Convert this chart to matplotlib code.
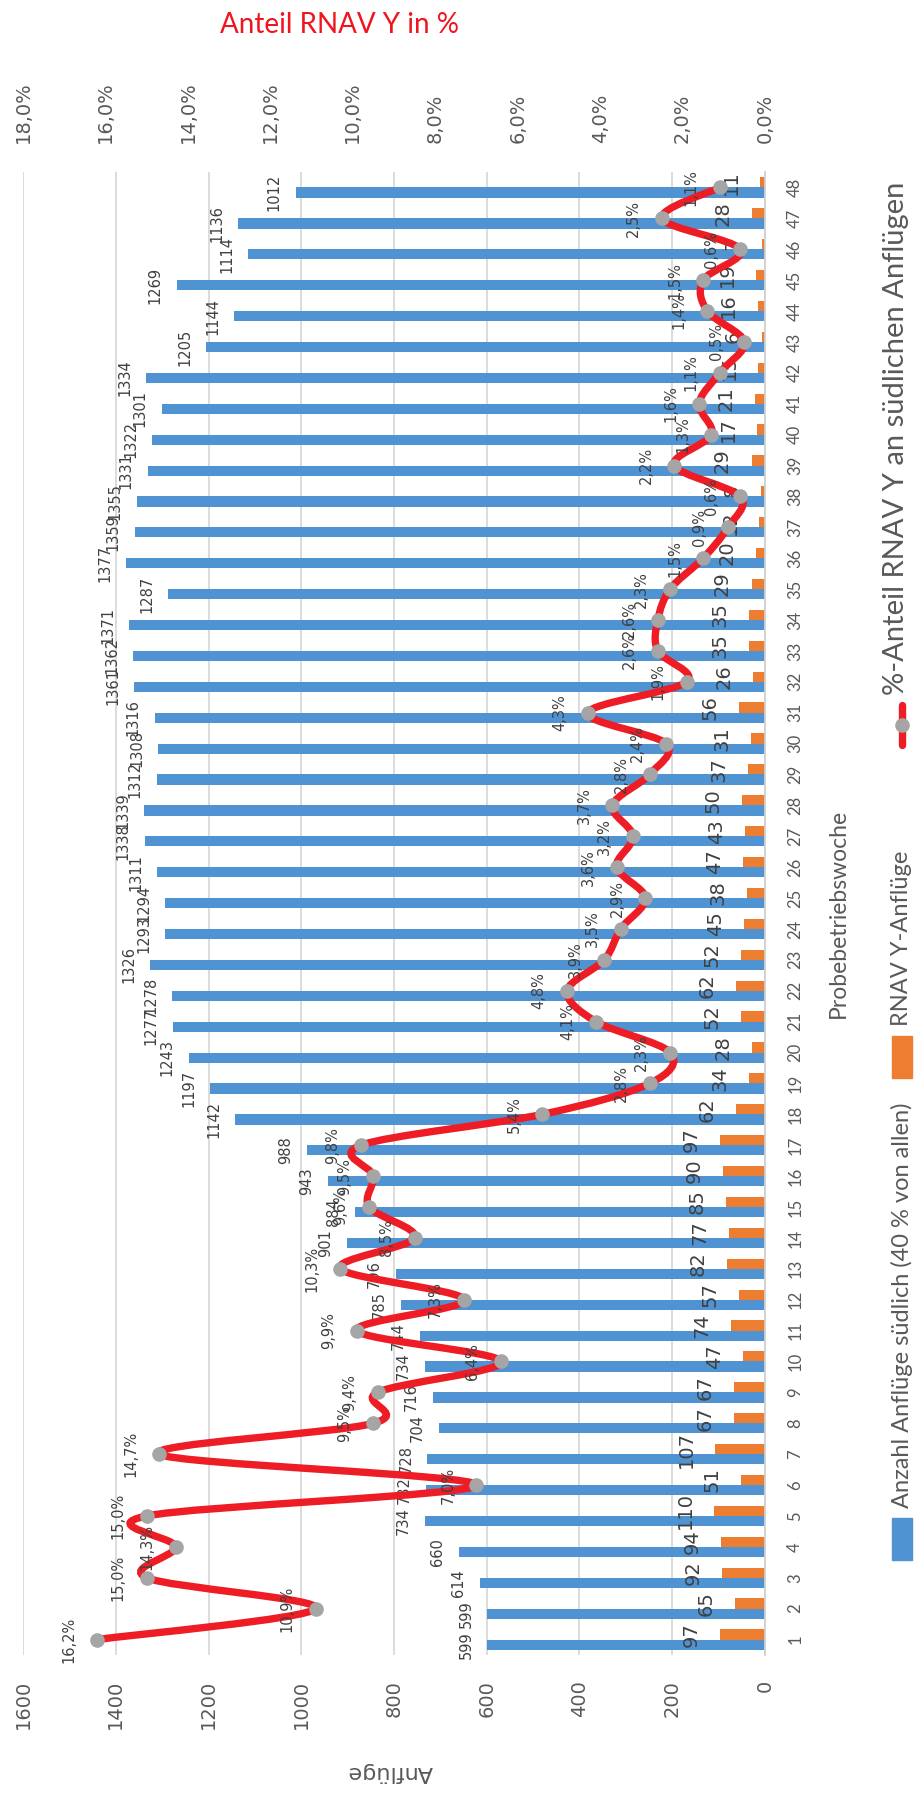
import numpy as np
import matplotlib.pyplot as plt
from matplotlib.path import Path
from matplotlib.patches import PathPatch, Rectangle
from matplotlib.lines import Line2D

# Probebetrieb RNAV Y: Anflüge je Woche (Diagramm hochkant gedreht)
weeks = list(range(1, 49))
anfluege_sued = [599, 599, 614, 660, 734, 732, 728, 704, 716, 734, 744, 785,
                 796, 901, 884, 943, 988, 1142, 1197, 1243, 1277, 1278, 1326, 1293,
                 1294, 1311, 1338, 1339, 1312, 1308, 1316, 1361, 1362, 1371, 1287, 1377,
                 1359, 1355, 1331, 1322, 1301, 1334, 1205, 1144, 1269, 1114, 1136, 1012]
rnav_y = [97, 65, 92, 94, 110, 51, 107, 67, 67, 47, 74, 57,
          82, 77, 85, 90, 97, 62, 34, 28, 52, 62, 52, 45,
          38, 47, 43, 50, 37, 31, 56, 26, 35, 35, 29, 20,
          12, 8, 29, 17, 21, 15, 6, 16, 19, 7, 28, 11]
anteil = [16.2, 10.9, 15.0, 14.3, 15.0, 7.0, 14.7, 9.5, 9.4, 6.4, 9.9, 7.3,
          10.3, 8.5, 9.6, 9.5, 9.8, 5.4, 2.8, 2.3, 4.1, 4.8, 3.9, 3.5,
          2.9, 3.6, 3.2, 3.7, 2.8, 2.4, 4.3, 1.9, 2.6, 2.6, 2.3, 1.5,
          0.9, 0.6, 2.2, 1.3, 1.6, 1.1, 0.5, 1.4, 1.5, 0.6, 2.5, 1.1]
count_ticks = list(range(0, 1601, 200))
pct_ticks = list(range(0, 19, 2))

legend_labels = ['Anzahl Anflüge südlich (40 % von allen)', 'RNAV Y-Anflüge',
                 '%-Anteil RNAV Y an südlichen Anflügen']

BLUE = '#4F93D2'
ORANGE = '#ED7D31'
RED = '#EE1C24'
GREY = '#A5A5A5'
TXT = '#595959'
LBL = '#404040'

W, H = 915, 1798
fig = plt.figure(figsize=(W / 100, H / 100), dpi=100)


def fx(px):
    return px / W


def fy(py):
    return 1 - py / H


ax = fig.add_axes([fx(23), fy(1655), fx(765 - 23), (1655 - 172) / H])
ax.set_xlim(1600, 0)
ax.set_ylim(0.5, 48.5)

wk = np.array(weeks)
h = 0.33
ax.barh(wk - h / 2, anfluege_sued, height=h, color=BLUE, zorder=2)
ax.barh(wk + h / 2, rnav_y, height=h, color=ORANGE, zorder=2)

for w, v in zip(weeks, anfluege_sued):
    ax.annotate(str(v), (v, w - h / 2), xytext=(-10, 0), textcoords='offset points',
                rotation=90, ha='right', va='center', fontsize=10.5, color=LBL)
for w, v in zip(weeks, rnav_y):
    ax.annotate(str(v), (v, w + h / 2), xytext=(-14, 0), textcoords='offset points',
                rotation=90, ha='right', va='center', fontsize=14, color=LBL)

ax.set_xticks(count_ticks)
ax.set_xticklabels([str(t) for t in count_ticks], rotation=90, fontsize=14, color=TXT)
ax.tick_params(axis='x', length=0, pad=18)
ax.yaxis.tick_right()
ax.set_yticks(weeks)
ax.set_yticklabels([str(w) for w in weeks], rotation=90, fontsize=12,
                   color=TXT, family='Lato')
for lab in ax.get_yticklabels():
    lab.set_va('center')
ax.tick_params(axis='y', length=0, pad=16)
ax.grid(axis='x', color='#D9D9D9', lw=1.3)
ax.set_axisbelow(True)
for side in ['top', 'left', 'bottom']:
    ax.spines[side].set_visible(False)
ax.spines['right'].set_color('#D0D0D0')
ax.spines['right'].set_linewidth(1.3)

ax2 = ax.twiny()
ax2.set_xlim(18, 0)
ax2.set_xticks(pct_ticks)
ax2.set_xticklabels([f'{t:.1f}'.replace('.', ',') + '%' for t in pct_ticks],
                    rotation=90, fontsize=14, color=TXT)
ax2.tick_params(axis='x', length=0, pad=21)
for side in ax2.spines:
    ax2.spines[side].set_visible(False)


def smooth_path(axis, xs, ys, k=1 / 6):
    # Bezier-Glättung wie bei Excel-Linien, in Pixelkoordinaten gerechnet
    pts = axis.transData.transform(np.column_stack([xs, ys]))
    n = len(pts)
    verts = [pts[0]]
    codes = [Path.MOVETO]
    for i in range(n - 1):
        p0 = pts[i - 1] if i > 0 else pts[i]
        p1, p2 = pts[i], pts[i + 1]
        p3 = pts[i + 2] if i + 2 < n else pts[i + 1]
        verts += [p1 + (p2 - p0) * k, p2 - (p3 - p1) * k, p2]
        codes += [Path.CURVE4] * 3
    verts = axis.transData.inverted().transform(np.array(verts))
    return Path(verts, codes)


ax2.add_patch(PathPatch(smooth_path(ax2, anteil, weeks), fill=False,
                        edgecolor=RED, lw=5.3, capstyle='round', zorder=3))
ax2.plot(anteil, weeks, 'o', color=GREY, ms=9.5, zorder=4)
for w, p in zip(weeks, anteil):
    ax2.annotate(f'{p:.1f}'.replace('.', ',') + '%', (p, w), xytext=(-15, 0),
                 textcoords='offset points', rotation=90, ha='right', va='center',
                 fontsize=10.5, color=LBL, zorder=5)

fig.text(fx(339), fy(25), 'Anteil RNAV Y in %', family='Lato', fontsize=20,
         color='#F0141E', ha='center', va='center')
fig.text(fx(390), fy(1772), 'Anflüge', rotation=180, fontsize=16, color=TXT,
         ha='center', va='center')
fig.text(fx(838), fy(913), 'Probebetriebswoche', rotation=90, family='Lato',
         fontsize=16.5, color=TXT, ha='center', va='center')

# Legende gedreht: Balken-Einträge von unten, Linien-Eintrag von oben
renderer = fig.canvas.get_renderer()
lx = 902
y = 1560
for i in range(2):
    fig.add_artist(Rectangle((fx(lx - 10), fy(y)), fx(20), 42 / H,
                             color=[BLUE, ORANGE][i], transform=fig.transFigure))
    y -= 42 + 10
    t = fig.text(fx(lx), fy(y), legend_labels[i], rotation=90, family='Lato',
                 fontsize=17, color=TXT, ha='center', va='bottom')
    y -= t.get_window_extent(renderer).height + 25

t = fig.text(fx(896), fy(182), legend_labels[2], rotation=90, family='Lato',
             fontsize=21, color=TXT, ha='center', va='top')
y = 182 + t.get_window_extent(renderer).height + 10
fig.add_artist(Line2D([fx(lx), fx(lx)], [fy(y), fy(y + 40)], color=RED,
                      lw=5.3, solid_capstyle='round', transform=fig.transFigure))
fig.add_artist(Line2D([fx(lx)], [fy(y + 20)], marker='o', color=GREY, ms=9.5,
                      transform=fig.transFigure))

fig.savefig('out.png', dpi=100)
